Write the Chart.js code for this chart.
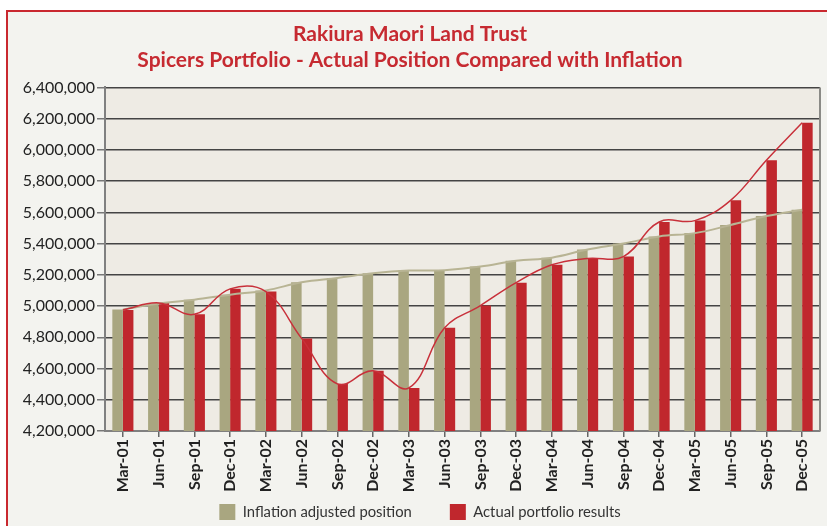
<!DOCTYPE html>
<html>
<head>
<meta charset="utf-8">
<script src="https://cdn.jsdelivr.net/npm/chart.js@4.4.0/dist/chart.umd.min.js"></script>
<style>
  html, body { margin: 0; padding: 0; background: #fff; }
  #frame {
    position: absolute; left: 6px; top: 10px; width: 821px; height: 516px;
    border-top: 2px solid #c9282f; border-left: 2px solid #c9282f;
    background: #f3f3ef;
  }
  #wrap { position: absolute; left: 0; top: 0; width: 827px; height: 526px; }
</style>
</head>
<body>
<div id="frame"></div>
<div id="wrap"><canvas id="chart" width="827" height="526"></canvas></div>
<script>
const quarters = ['Mar-01', 'Jun-01', 'Sep-01', 'Dec-01', 'Mar-02', 'Jun-02', 'Sep-02', 'Dec-02', 'Mar-03', 'Jun-03',
    'Sep-03', 'Dec-03', 'Mar-04', 'Jun-04', 'Sep-04', 'Dec-04', 'Mar-05', 'Jun-05', 'Sep-05', 'Dec-05'];

const inflationAdjusted = [4978000, 5016000, 5041000, 5073000, 5100000, 5152000, 5180000, 5210000, 5227000, 5230000,
    5253000, 5290000, 5310000, 5362000, 5400000, 5446000, 5467000, 5519000, 5576000, 5617000];

const actualResults = [4975000, 5020000, 4947000, 5110000, 5093000, 4793000, 4502000, 4585000, 4476000, 4861000,
    5003000, 5150000, 5264000, 5305000, 5317000, 5538000, 5547000, 5677000, 5934000, 6174000];

const yMin = 4200000;
const yMax = 6400000;
const yStep = 200000;

const tan = '#a9a680';
const red = '#c0272d';

// plot background + right edge
const plotFrame = {
    id: 'plotFrame',
    beforeDraw(chart) {
        const a = chart.chartArea;
        const ctx = chart.ctx;
        ctx.save();
        ctx.fillStyle = '#eeebe4';
        ctx.fillRect(a.left, a.top, a.right - a.left, a.bottom - a.top);
        ctx.restore();
    },
    afterDatasetsDraw(chart) {
        const a = chart.chartArea;
        const ctx = chart.ctx;
        ctx.save();
        ctx.strokeStyle = '#8a8a86';
        ctx.lineWidth = 2;
        ctx.beginPath();
        ctx.moveTo(a.right, a.top);
        ctx.lineTo(a.right, a.bottom);
        ctx.stroke();
        ctx.restore();
    }
};

// legend needs wide gaps between items (labels.padding), but that padding
// also inflates its height -> keep its layout box small, then pull it up
const legendSpot = {
    id: 'legendSpot',
    afterInit(chart) {
        const legend = chart.legend;
        const fit = legend.fit.bind(legend);
        legend.fit = function () {
            fit();
            this.height = 35;
        };
    },
    afterLayout(chart) {
        const legend = chart.legend;
        const pad = legend.options.labels.padding;
        legend.top = 504 - pad;
        legend.bottom = chart.height;
        legend.height = legend.bottom - legend.top;
        // centred on the plot rather than the canvas
        legend.left += 10;
        legend.right += 10;
    }
};

new Chart(document.getElementById('chart'), {
    type: 'bar',
    data: {
        labels: quarters,
        datasets: [
            {
                label: 'Inflation adjusted position',
                data: inflationAdjusted,
                backgroundColor: tan,
                categoryPercentage: 0.59,
                barPercentage: 1.0,
                order: 2
            },
            {
                label: 'Actual portfolio results',
                data: actualResults,
                backgroundColor: red,
                categoryPercentage: 0.59,
                barPercentage: 1.0,
                order: 2
            },
            {
                type: 'line',
                label: 'inflation line',
                data: inflationAdjusted,
                borderColor: '#b8b494',
                borderWidth: 2,
                pointRadius: 0,
                tension: 0.4,
                order: 1
            },
            {
                type: 'line',
                label: 'actual line',
                data: actualResults,
                borderColor: '#c8303a',
                borderWidth: 1.5,
                pointRadius: 0,
                tension: 0.4,
                order: 0
            }
        ]
    },
    options: {
        responsive: false,
        animation: false,
        layout: { padding: { left: 0, right: 7, top: 0, bottom: 0 } },
        plugins: {
            title: {
                display: true,
                text: ['Rakiura Maori Land Trust', 'Spicers Portfolio - Actual Position Compared with Inflation'],
                color: '#c62a31',
                font: { family: 'Lato', weight: 'bold', size: 21, lineHeight: 1.2 },
                padding: { top: 22, bottom: 15 }
            },
            legend: {
                position: 'bottom',
                labels: {
                    filter: item => item.datasetIndex < 2,
                    boxWidth: 16,
                    boxHeight: 16,
                    padding: 38,
                    color: '#333',
                    font: { family: 'Lato', size: 14.8 }
                }
            },
            tooltip: { enabled: false }
        },
        scales: {
            x: {
                offset: true,
                afterFit: scale => { scale.height = 60; },
                grid: { drawOnChartArea: false, offset: false, tickLength: 6, color: '#666', lineWidth: 1.5 },
                border: { color: '#808080', width: 2 },
                ticks: {
                    minRotation: 90, maxRotation: 90, padding: 2, autoSkip: false,
                    color: '#222',
                    font: { family: 'Lato', weight: 'bold', size: 16 }
                }
            },
            y: {
                min: yMin,
                max: yMax,
                afterFit: scale => { scale.width = 105; },
                grid: { color: '#444', lineWidth: 1.5, tickLength: 8, tickColor: '#777' },
                border: { color: '#808080', width: 2 },
                ticks: {
                    stepSize: yStep,
                    padding: 2,
                    color: '#222',
                    font: { family: 'Lato', size: 16 },
                    callback: v => v.toLocaleString('en-US')
                }
            }
        }
    },
    plugins: [plotFrame, legendSpot]
});
</script>
</body>
</html>
